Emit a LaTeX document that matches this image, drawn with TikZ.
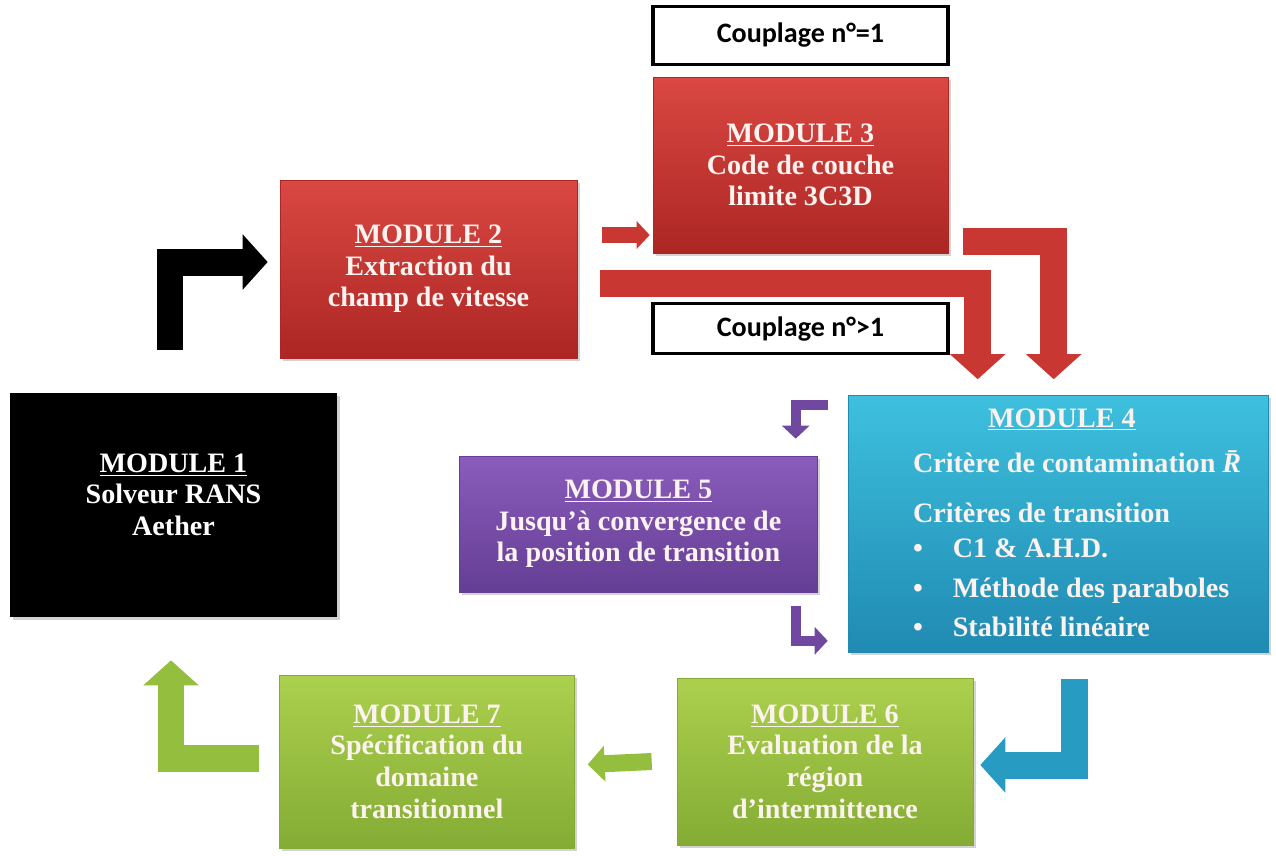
\documentclass[tikz,border=0pt]{standalone}
\usepackage{fontspec}
\setmainfont{Liberation Serif}
\newfontfamily\cpfont{Carlito}
\usetikzlibrary{arrows.meta, positioning, calc, shadows}
\definecolor{redtop}{RGB}{218,72,66}
\definecolor{redbot}{RGB}{172,38,36}
\definecolor{redarrow}{RGB}{200,55,50}
\definecolor{cyantop}{RGB}{62,192,222}
\definecolor{cyanbot}{RGB}{32,138,178}
\definecolor{cyanarrow}{RGB}{40,155,195}
\definecolor{purptop}{RGB}{138,92,188}
\definecolor{purpbot}{RGB}{100,62,148}
\definecolor{purparrow}{RGB}{112,72,160}
\definecolor{greentop}{RGB}{172,208,78}
\definecolor{greenbot}{RGB}{132,172,52}
\definecolor{greenarrow}{RGB}{148,190,62}
\definecolor{modtext}{RGB}{252,242,240}

\begin{document}
\begin{tikzpicture}[
  x=0.02cm, y=-0.02cm,
  modbox/.style={rectangle, align=center, text=modtext, inner sep=2pt,
    font=\fontsize{16}{18}\selectfont\bfseries,
    drop shadow={shadow xshift=1.5pt, shadow yshift=-1.5pt, opacity=0.35}},
  redbox/.style={modbox, top color=redtop, bottom color=redbot, draw=redbot},
  cyanbox/.style={modbox, top color=cyantop, bottom color=cyanbot, draw=cyanbot},
  purpbox/.style={modbox, top color=purptop, bottom color=purpbot, draw=purpbot},
  greenbox/.style={modbox, top color=greentop, bottom color=greenbot, draw=greenbot},
  blackbox/.style={modbox, fill=black, text=white},
  cpbox/.style={rectangle, draw, line width=1.8pt, fill=white, minimum width=5.9cm,
    font=\cpfont\fontsize{16}{18}\selectfont\bfseries},
  bigarrow/.style={line width=0.54cm, line join=miter, -{Triangle[width=1.08cm, length=0.5cm]}},
  midarrow/.style={line width=0.34cm, line join=miter, -{Triangle[width=0.7cm, length=0.34cm]}},
  tinyarrow/.style={line width=0.2cm, line join=miter, -{Triangle[width=0.54cm, length=0.26cm]}},
]
\fill[white] (0,0) rectangle (1276,856);
\useasboundingbox (0,0) rectangle (1276,856);

% modules
\node[blackbox, minimum width=6.54cm, minimum height=4.48cm] (m1) at (173.5,505)
  {\underline{MODULE 1}\\ Solveur RANS\\ Aether\rule[-12pt]{0pt}{1pt}};
\node[redbox, minimum width=5.94cm, minimum height=3.56cm] (m2) at (428.5,269)
  {\underline{MODULE 2}\\ Extraction du\\ champ de vitesse};
\node[redbox, minimum width=5.9cm, minimum height=3.52cm] (m3) at (800.5,165)
  {\underline{MODULE 3}\\ Code de couche\\ limite 3C3D};
\node[cyanbox, minimum width=8.4cm, minimum height=5.12cm, font=\fontsize{16}{22.7}\selectfont\bfseries] (m4) at (1058,524)
  {\begin{tabular}{@{\hspace{0.9cm}}l@{}}
   \hspace*{1.5cm}\underline{MODULE 4}\\[3pt]
   Critère de contamination \textit{\=R}\\[6pt]
   Critères de transition\\[-3pt]
   \textbullet\hspace{0.6cm}C1 \& A.H.D.\\
   \textbullet\hspace{0.6cm}Méthode des paraboles\\
   \textbullet\hspace{0.6cm}Stabilité linéaire
   \end{tabular}};
\node[purpbox, minimum width=7.16cm, minimum height=2.72cm, left=0.6cm of m4] (m5)
  {\underline{MODULE 5}\\ Jusqu’à convergence de\\ la position de transition};
\node[greenbox, minimum width=5.92cm, minimum height=3.34cm] (m6) at (825,761.5)
  {\underline{MODULE 6}\\ Evaluation de la\\ région\\ d’intermittence};
\node[greenbox, minimum width=5.9cm, minimum height=3.46cm, left=2.04cm of m6] (m7)
  {\underline{MODULE 7}\\ Spécification du\\ domaine\\ transitionnel};

% couplage labels
\node[cpbox, minimum height=1.16cm, above=0.22cm of m3] (cp1) {Couplage n°=1};
\node[cpbox, minimum height=1.0cm, below=0.98cm of m3] (cp2) {Couplage n°>1};

% block arrows
\draw[bigarrow, black] ($(m1.north)+(-3.5,-43)$) |- ($(m2.west)+(-12,-7)$);
\draw[tinyarrow, redarrow, line width=0.32cm] ($(m2.east)+(25,-34)$) -- ($(m3.west)+(-3,70)$);
\draw[bigarrow, redarrow] ($(m2.east)+(23,14)$) -| ($(m4.north west)+(130,-16)$);
\draw[bigarrow, redarrow] ($(m3.east)+(15,76)$) -| ($(m4.north west)+(206,-16)$);
\draw[tinyarrow, purparrow] ($(m4.north west)+(-20,10)$) -| ($(m5.north east)+(-22,-17)$);
\draw[tinyarrow, purparrow] ($(m5.south east)+(-22,14)$) |- ($(m4.south west)+(-20,-12)$);
\draw[bigarrow, cyanarrow] ($(m4.south west)+(227,26)$) |- ($(m6.east)+(7,3.5)$);
\draw[midarrow, greenarrow] ($(m6.west)+(-25,0)$) -- ($(m7.east)+(13,3)$);
\draw[bigarrow, greenarrow] ($(m7.west)+(-20,-3.5)$) -| ($(m1.south)+(-2.5,43)$);
\end{tikzpicture}
\end{document}
